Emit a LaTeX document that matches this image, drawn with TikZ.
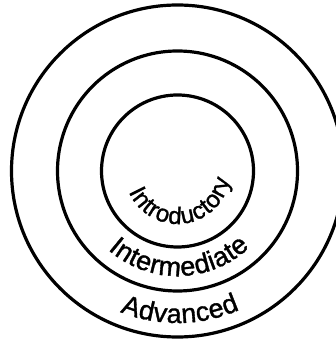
\documentclass[tikz,border=0pt]{standalone}
\usepackage{fontspec}
\newfontfamily\ringfont[FakeBold=1.2]{Liberation Sans}
\usetikzlibrary{decorations.text,calc}
\begin{document}
\begin{tikzpicture}[x=1pt,y=1pt,
  ring/.style={circle,draw=black,line width=3.2pt,inner sep=0pt},
  arctext/.style={decorate,decoration={text along path,text align=center,raise=-4pt,text={#1}}}]
\useasboundingbox (0,0) rectangle (336,339);
\clip (0,0) rectangle (336,339);
\coordinate (c) at (177.5,168);
\node[ring,minimum size=152pt] (inner) at (c) {};
\node[ring,minimum size=240pt] (middle) at (c) {};
\node[ring,minimum size=332pt] (outer) at (c) {};
\path[arctext={|\ringfont\fontsize{24}{28}\selectfont|Introductory}]
  ($(c)+(200:49)$) arc[start angle=200,end angle=354,radius=49];
\path[arctext={|\ringfont\fontsize{27}{32}\selectfont|Intermediate}]
  ($(c)+(200:101)$) arc[start angle=200,end angle=342,radius=101];
\path[arctext={|\ringfont\fontsize{27}{32}\selectfont|Advanced}]
  ($(c)+(225:148)$) arc[start angle=225,end angle=317,radius=148];
\end{tikzpicture}
\end{document}
